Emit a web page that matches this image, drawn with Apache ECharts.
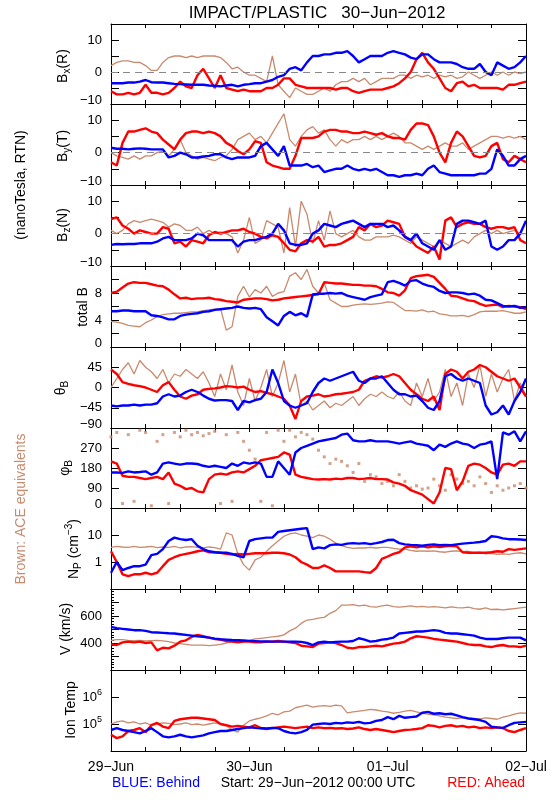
<!DOCTYPE html>
<html><head><meta charset="utf-8">
<script src="https://cdn.jsdelivr.net/npm/echarts@6/dist/echarts.min.js"></script>
<style>html,body{margin:0;padding:0;background:#fff}#c{width:550px;height:800px}</style>
</head><body><div id="c"></div>
<script>
// ---------------- DATA (hours since 29-Jun-2012 00:00 UTC) ----------------
const hours = [0,1,2,3,4,5,6,7,8,9,10,11,12,13,14,15,16,17,18,19,20,21,22,23,24,25,26,27,28,29,30,31,32,33,34,35,36,37,38,39,40,41,42,43,44,45,46,47,48,49,50,51,52,53,54,55,56,57,58,59,60,61,62,63,64,65,66,67,68,69,70,71,72];
const dayLabels = ['29\u2212Jun','30\u2212Jun','01\u2212Jul','02\u2212Jul'];

const bxRed = [-6,-7,-7,-6.5,-7,-6.5,-4,-6.5,-6.5,-7,-6.5,-5, -3,-4.5,-5,-1,1,-2,-5,-1,-5,-5.5,-6,-5.5, -6,-6,-6,-5,-5,-4,-2,-2,-4,-4.5,-5,-5, -5,-5,-5,-5.5,-5,-5,-6,-6.5,-6,-5.5,-5.5,-5.5, -5,-4.5,-3.5,-2,0,4,6,3,1,-2,-5,-6, -3.5,-3,-4.5,-4,-5,-5,-5,-5,-5.5,-4,-4,-3.5, -3];
const bxBlue = [-3.5,-3.5,-3.5,-3.3,-3.3,-3,-2.5,-3.2,-3.3,-3.3,-3.5,-3.7, -3.8,-3.9,-4,-4,-4,-4.2,-4.3,-4.5,-4.2,-4,-4.5,-4, -3.8,-3.5,-3.5,-3,-2.5,-1.5,-1,1,1.5,0.5,3,5, 5,5.5,5.5,6,6,6.5,5,3,4,5,5,5, 6,6.5,6,5.5,4.5,4,5.5,5.5,4,3,3,3, 2.5,1.5,1,1,2.5,0,-1,3,2,1,1.5,3, 5];
const bxBrown = [2,3,3.5,3.5,3,3,2,0.5,0.5,3,4.5,5, 5,4.5,5,4.5,5,5,5,4.5,3,1,1.5,0, -1,-1,-2,-3,5,-4,-6,-8,-5,-6,-7,-7, -6,-5,-6,-4,-3,-3,-2,-3,-2,-4,-3,-2, -2,-2,-1,-1,-2,-1,-1.5,-1,-2,-1,-1.5,-1, -2,-1.5,0,-1,-2,-1,0,-1,0,-1,0,-0.5, 0];

const byRed = [-3,-4,3,6.5,6.5,7,7.5,6.5,6,4,2.5,1, 4,6,6.5,6.5,6,6.5,6,5,3,2,0.5,-0.5, 1,3.5,3,-3,-4,-4.5,-5,-5,-1,4.5,4.5,4.5, 5,6.5,7,7,6.5,6.5,6,6,6.5,6,5.5,6, 5,4.5,4.5,4,7,9,9,8.5,5,0,-3,3, 6.5,5,2,-1,-1.5,-1,2,3,-2,-3,-1,-2, -3];
const byBlue = [1.5,1.2,1.2,1,1.2,1.3,1.2,1,1,1,-1.5,-1, 0,-0.5,-1.5,-1.5,-1.2,-1,-0.5,-0.5,-1.5,-2,-1.5,-1.5, -1.5,-1,2,3,1,-1,2,-4,-4,-4,-3.5,-4.5, -4,-6,-5.5,-5,-5,-4,-5,-5.5,-5,-5.5,-5,-6, -7,-7,-7.5,-7,-7,-6.5,-7,-5,-4,-6,-6.5,-7, -7,-7,-7,-7,-6.5,-6.5,-5,1,-1,-4,-4,-2, -1];
const byBrown = [0,-1,-1.5,-2,-1,-2,-1,-1,0,0.5,-1,1, 4,0,-1,-2,-1.5,-2,-2.5,-1.5,-1,1,4,5, 6,4,5,3,6,9,12,4,2,5,7,8, 6,7,4,2,4,3,4,4,5,4,5,4, 5,6,5,3,3,2,1,2,1,2,3,2, 2,3,1,2,3,4,5,5,4.5,5,4.5,5, 4];

const bzRed = [4.5,5,2.5,1.5,0,1,0.5,0,0,2,1.5,-3, -2.5,-4,-2,-2.5,-3,-0.5,0.5,0,0.5,1,1,1.5, 0.5,0,-1,-1.5,-0.5,-1,-3,-5,-5.5,-3,-2,-2.5, -1,-4,-3.5,-3.5,-3,-2,-1,2,1,3,2,2.5, 4,3.5,3,-1,-2,-4,-5,-6,-4,-8,4,5, 2,3,3.5,3,3,2,1.5,2,2,1.5,2,-2, -3];
const bzBlue = [-3.5,-3.2,-3.3,-3.2,-3.2,-3,-3,-3,-2.5,-1.5,-1,-2, -2,-2,-1.5,0,-0.5,-2,-2,-2,-2,-2,-4,-2.5, -2,-2,-1.5,-1,0,3,1,-3,-3.5,-3.5,-3,0, 1,3,2.5,2,3,3.5,4,3,2,3,3,3, 2,2.5,1,-1,-2,0,-3,-4,-5,-2,-5,-4, 3,4,4,3.5,3,4,-4,-5,-4,-2,-2,0, 4];
const bzBrown = [1,0,1,3,4,3.5,4,4.5,4,3.5,2,3, 2.5,1,1,2,0,1,0,0.5,0,-1,-6,-2, 5,-3,-2,4,3,2,-6,8,-4,10,6,-3, 4,-2,7,0,-1,0,1,-1,-2,-2,-1,-1, -1,-0.5,-1,-2,-3,-1,-2,-3,-4,-2,-3,-4, -3,-2,-3,-1,0,1,0,1,0,0.5,1,0, 0];

const btRed = [8,8.2,8.8,9.4,9.6,9.5,9.5,9.3,9.1,9,8.5,7.8, 7.2,7.3,7.1,7.2,7.2,7.3,7.1,7,6.8,6.7,6.6,7, 7.1,7.2,7.2,7.1,6.9,7,7.2,7.3,7.4,7.5,7.6,7.7, 7.8,9.6,9.5,9.4,9.4,9.3,9.2,9.2,9.1,9.1,9,8.6, 8.1,8,7.6,8.4,10.2,10.5,10.6,10.7,10.4,9.5,8.6,7.6, 7.5,7.2,6.9,6.8,6.4,6.1,6.2,6.3,5.9,6.1,6,5.9, 5.6];
const btBlue = [5.3,5.3,5.4,5.4,5.3,5.3,5.3,4.7,4.6,4.4,4.1,4.1, 4.6,4.8,4.9,5,5.2,5.3,5.5,5.6,5.7,5.8,6,5.8, 5.7,5.8,5.6,4.4,3.8,3.2,4.6,5.2,4.7,5,4.5,7.8, 7.9,7.9,8,7.9,8,7.6,7.4,7.2,7,7.4,7.6,7.8, 9.6,9.8,9.5,9.1,9.8,9.9,9.4,9.1,8.9,8.3,8,8.1, 8.1,8,7.8,7.9,7.6,7,6.9,6.5,6.1,6,6.1,5.8, 5.9];
const btBrown = [3.8,3.7,3.5,3.2,3.1,3,3.6,4,4.5,4.8,4.9,5, 5,5.1,5.2,5.2,5.4,5.5,5.6,5.7,2.5,3,7.5,9, 7.4,8.5,8,9,7.5,8,8.2,10.5,11,10,11.5,9, 8,9.5,7,6.5,6,6,6.2,6.3,6.4,6.3,6.4,6.5, 6.7,6.6,6,5.4,5.4,5.3,5.5,5.2,5.3,4.9,4.8,4.6, 4.6,4.7,4.5,4.8,5.2,5.3,5.3,5.3,5.4,5.2,5,5, 5.2];

const thRed = [40,30,12,8,5,3,0,-5,-10,5,12,-5, -20,-25,-18,-15,-5,-3,-2,0,3,2,0,2, -5,-10,-8,-12,-15,-20,-25,-40,-70,-30,-20,-18, -15,-20,-18,-15,-14,-12,-10,-5,15,20,25,22, 25,30,25,10,-5,-15,-25,-30,-20,-50,30,40, 35,20,35,40,50,45,35,25,20,15,20,0, -20];
const thBlue = [-40,-42,-40,-40,-38,-40,-38,-38,-35,-20,-15,-20, -18,-10,-5,-10,-18,-25,-29,-28,-28,-30,-50,-30, -33,-28,-25,-10,40,10,-30,-40,-45,-40,-35,-10, 10,20,15,20,25,30,35,15,10,20,20,25, 10,-5,-15,-15,-20,-18,-30,-45,-50,-30,25,30, 20,15,20,15,10,-40,-60,-55,-40,-60,-30,-10, 20];
const thBrown = [0,20,40,55,30,60,45,35,20,40,10,30, 25,40,30,20,35,10,-20,30,-5,50,-10,-40, 20,-30,0,40,-20,10,60,-10,30,-40,-30,-50, -40,-30,-45,-35,-40,-30,-20,-40,-25,-15,-20,-10, -20,-25,-10,-30,-40,10,-20,20,-30,-10,40,-20, 10,-40,30,0,50,-20,30,-10,20,40,-30,10, -20];

const phRed = [210,200,145,140,140,135,130,135,140,130,160,110, 100,85,90,75,70,130,150,155,150,160,165,160, 175,190,215,220,225,230,250,240,150,140,135,130, 128,130,128,132,130,135,135,130,132,135,130,130, 128,115,110,100,80,70,60,40,20,70,180,175, 80,120,190,200,195,180,160,150,195,200,190,210, 210];
const phBlue = [160,160,158,165,160,162,165,150,160,200,205,200, 195,200,200,198,190,185,190,185,180,200,190,205, 200,205,200,140,140,210,180,150,250,270,280,290, 300,305,310,315,330,335,305,300,300,305,300,300, 300,295,290,295,300,290,285,280,260,285,275,290, 300,290,285,270,285,290,300,130,340,330,345,300, 345];
const phBrown = [320,340,20,330,30,350,340,10,300,330,20,340, 320,350,330,340,325,335,345,20,330,30,340,300, 260,220,30,340,10,350,300,350,320,340,330,310, 260,230,200,220,210,190,160,200,120,150,140,110, 120,100,150,120,90,100,85,90,130,100,80,150, 130,110,120,100,140,110,70,100,80,90,100,110, 90];

const npRed = [2.5,1,0.35,0.3,0.35,0.35,0.4,0.35,0.4,0.7,1.2,1.5, 1.8,2,2.2,2.5,2.7,2.3,2.3,2.2,2,1.9,2,1.9, 2,2.1,2.1,2.1,2.2,2.2,2.1,1.9,1.5,1,0.8,0.6, 0.6,0.75,0.6,0.45,0.45,0.45,0.45,0.45,0.42,0.4,0.6,1.3, 1.6,2,2.3,3.5,3.8,3.5,3.8,3.5,3.8,3.6,3.8,4, 3.8,2.3,2.2,2.2,2.2,2.2,2.3,2.5,2.4,3,2.8,3, 3.2];
const npBlue = [0.4,1,0.5,0.6,0.7,0.7,0.8,1.8,2,3,6,8, 7,6.5,7,4,3,2.5,2.3,2.2,2.2,2,1.7,1.5, 6,7,7.5,8,8,13,14,15,16,17,18,3, 3.5,3.2,4.2,4.5,4.3,4.8,5,4.8,5,4.6,5,5.5, 6.5,6.7,5,4.5,4.3,4.2,4,4.3,4.5,4.2,4.3,4.2, 4.5,4.8,5,5.2,5.5,6,9,8.5,7.5,7,7,6.8, 6.5];
const npBrown = [3.5,3.8,3.6,3.5,3.8,3.5,3.6,3.8,3.4,3.6,3.5,3.8, 3.3,3.6,3.7,3.5,3.3,3.6,3.4,3,12,10,2,0.8, 0.5,1.2,1.5,2.5,4,6,9,11,12,10,9,8, 10,9,7,5,4,3.5,3.2,3.3,3.3,3.5,3.3,3.5, 3.5,3.2,3,3,2.7,2.5,2.6,2.5,2.6,2.4,2.3,2.5, 2.6,2.4,2.5,2.2,2.3,2,2.1,1.9,2,1.9,2.1,2.2, 2];

const vRed = [390,385,405,410,405,410,400,405,345,365,360,380, 410,420,445,460,450,440,430,425,415,410,405,410, 410,405,405,410,410,415,410,405,400,380,375,370, 395,400,405,400,385,365,360,370,370,375,380,375, 385,395,400,410,435,450,445,440,430,425,420,415, 410,400,390,385,385,375,370,380,385,375,375,370, 380];
const vBlue = [520,510,505,500,495,495,490,480,478,475,472,470, 465,460,455,450,445,440,432,428,425,422,420,418, 416,414,412,411,410,410,410,410,410,408,400,385, 405,410,405,408,410,410,415,435,425,410,415,425, 430,440,470,475,480,485,485,490,495,490,475,470, 470,465,460,455,440,430,430,430,435,440,440,440, 420];
const vBrown = [420,425,425,420,418,420,415,418,420,415,410,400, 395,390,385,385,385,380,385,390,400,410,410,415, 420,430,435,440,445,450,460,490,510,545,570,575, 585,590,620,640,680,680,685,675,680,670,665,675, 680,670,665,670,675,668,672,665,670,665,660,668, 662,660,665,655,650,660,648,650,645,650,655,660, 665];

const tRed = [40000,30000,35000,55000,60000,70000,50000,90000,110000,80000,70000,130000, 150000,160000,170000,170000,160000,150000,140000,100000,90000,80000,85000,80000, 75000,90000,70000,65000,70000,75000,80000,75000,70000,75000,80000,70000, 75000,70000,72000,68000,70000,65000,68000,75000,65000,60000,65000,60000, 55000,50000,55000,60000,62000,65000,70000,90000,85000,75000,85000,90000, 80000,85000,75000,80000,70000,75000,70000,75000,70000,55000,50000,60000, 70000];
const tBlue = [60000,70000,60000,55000,50000,45000,55000,70000,50000,35000,32000,35000, 40000,35000,32000,35000,38000,45000,50000,55000,55000,60000,65000,70000, 75000,72000,70000,68000,72000,70000,55000,48000,45000,50000,60000,95000, 100000,105000,100000,110000,105000,115000,110000,120000,105000,110000,130000,140000, 180000,150000,200000,170000,180000,190000,260000,280000,240000,250000,230000,240000, 210000,180000,160000,150000,140000,120000,80000,75000,72000,90000,110000,115000, 120000];
const tBrown = [100000,120000,130000,110000,120000,100000,110000,90000,100000,110000,105000,95000, 100000,110000,95000,100000,90000,100000,110000,100000,90000,60000,50000,90000, 130000,150000,170000,200000,250000,220000,280000,300000,400000,450000,500000,420000, 460000,480000,450000,500000,470000,260000,280000,300000,320000,350000,330000,300000, 280000,250000,270000,300000,320000,280000,250000,230000,220000,200000,180000,170000, 160000,170000,165000,160000,155000,170000,160000,150000,180000,200000,230000,260000, 250000];

// ---------------- STYLE / LAYOUT ----------------
const FONT = '"Liberation Sans", Arial, sans-serif';
const RED = '#ff0000', BLUE = '#0000ff', BROWN = '#c98a6e';
const L = 111, W = 415;
const tops = [24,104,185,266,347,428,508,589,670];
const heights = [80,81,81,81,81,80,81,81,81];
const minus = s => String(s).replace('-', '\u2212');

const panels = [
  {axis:{type:'value',min:-10,max:15,interval:5}, labels:[-10,0,10], zero:true, d:[bxBrown,bxRed,bxBlue]},
  {axis:{type:'value',min:-10,max:15,interval:5}, labels:[-10,0,10], zero:true, d:[byBrown,byRed,byBlue]},
  {axis:{type:'value',min:-10,max:15,interval:5}, labels:[-10,0,10], zero:true, d:[bzBrown,bzRed,bzBlue]},
  {axis:{type:'value',min:0,max:12,interval:2}, labels:[0,4,8], d:[btBrown,btRed,btBlue]},
  {axis:{type:'value',min:-90,max:90,interval:45}, labels:[-90,-45,0,45], d:[thBrown,thRed,thBlue]},
  {axis:{type:'value',min:0,max:360,interval:90}, labels:[0,90,180,270], d:[phBrown,phRed,phBlue], brownScatter:true},
  {axis:{type:'log',min:0.1,max:100,logBase:10}, labels:[1,10], log:true, d:[npBrown,npRed,npBlue]},
  {axis:{type:'value',min:200,max:800,interval:100}, labels:[400,600], minor:true, d:[vBrown,vRed,vBlue]},
  {axis:{type:'log',min:1e4,max:1e7,logBase:10}, labels:[5,6], temp:true, d:[tBrown,tRed,tBlue]}
];

const option = {animation:false, backgroundColor:'#fff', grid:[], xAxis:[], yAxis:[], series:[], graphic:[]};
const black = {color:'#000', width:1};

panels.forEach((p,i)=>{
  option.grid.push({left:L, width:W, top:tops[i], height:heights[i], show:false});
  const xBase = {type:'value', gridIndex:i, min:0, max:72, interval:6,
    axisLine:{show:true,onZero:false,lineStyle:black},
    axisTick:{show:true,inside:true,length:4,lineStyle:black},
    splitLine:{show:false}};
  option.xAxis.push(Object.assign({}, xBase, {position:'bottom',
    axisLabel:{show:i===8, color:'#000', fontSize:14, fontFamily:FONT, margin:9, showMinLabel:true, showMaxLabel:true,
      formatter:v=> (v%24===0 ? dayLabels[v/24] : '')}}));
  option.xAxis.push(Object.assign({}, xBase, {position:'top', axisLabel:{show:false}}));

  const fmt = v => {
    if (p.temp) { const e = Math.round(Math.log10(v)); return p.labels.includes(e) && Math.abs(Math.log10(v)-e)<1e-6 ? '{a|10}{b|'+e+'}' : ''; }
    if (p.log) { const r = Math.round(v*1000)/1000; return p.labels.includes(r) ? String(r) : ''; }
    if (!p.labels.includes(v)) return '';
    return v === p.axis.min ? '{m|' + minus(v) + '}' : minus(v);
  };
  const yBase = Object.assign({}, p.axis, {gridIndex:i,
    axisLine:{show:true,onZero:false,lineStyle:black},
    axisTick:{show:true,inside:true,length:8,lineStyle:black},
    splitLine:{show:false}, minorSplitLine:{show:false}});
  option.yAxis.push(Object.assign({}, yBase, {position:'left',
    minorTick: p.minor ? {show:true,splitNumber:5,length:3,lineStyle:black} : {show:false},
    axisLabel:{show:true,color:'#000',fontSize:13,fontFamily:FONT,margin:9,formatter:fmt,
      showMinLabel:true, showMaxLabel:true,
      rich:{a:{fontSize:13,fontFamily:FONT,color:'#000'},
            b:{fontSize:9,fontFamily:FONT,color:'#000',padding:[0,0,8,0]},
            m:{fontSize:13,fontFamily:FONT,color:'#000',padding:[0,0,8,0]}}}}));
  option.yAxis.push(Object.assign({}, yBase, {position:'right', axisLabel:{show:false}}));

  const cols = [BROWN, RED, BLUE];
  p.d.forEach((arr,k)=>{
    const data = hours.map((h,j)=>[h, arr[j]]);
    const s = {xAxisIndex:2*i, yAxisIndex:2*i, data, silent:true, z:2+k};
    if (k===0 && p.brownScatter) {
      Object.assign(s, {type:'scatter', symbol:'rect', symbolSize:3, itemStyle:{color:BROWN}});
    } else {
      Object.assign(s, {type:'line', showSymbol:false, symbol:'none',
        lineStyle:{color:cols[k], width:k===0?1.3:2.4}, itemStyle:{color:cols[k]}});
    }
    if (k===0 && p.zero) {
      s.markLine = {silent:true, symbol:'none', label:{show:false}, animation:false,
        lineStyle:{color:'#888', type:[7,5], width:1}, data:[{yAxis:0}]};
    }
    option.series.push(s);
  });
});

// ---------------- TEXT ----------------
const rich = {
  n:{fontSize:14, fontFamily:FONT, color:'#000'},
  s:{fontSize:10, fontFamily:FONT, color:'#000', padding:[9,0,0,0]},
  u:{fontSize:10, fontFamily:FONT, color:'#000', padding:[0,0,9,0]}
};
function vtext(x, y, text, color, size) {
  return {type:'text', x, y, rotation:Math.PI/2, silent:true,
    style:{text, x:0, y:0, fill:color||'#000', font:(size||14)+'px '+FONT,
      textAlign:'center', textVerticalAlign:'middle', align:'center', verticalAlign:'middle', rich}};
}
function htext(x, y, text, color, align, size) {
  return {type:'text', x, y, silent:true,
    style:{text, x:0, y:0, fill:color||'#000', font:(size||14)+'px '+FONT,
      textAlign:align||'center', textVerticalAlign:'middle', align:align||'center', verticalAlign:'middle'}};
}
option.graphic = [
  htext(317, 13, 'IMPACT/PLASTIC   30\u2212Jun\u22122012', '#000', 'center', 17),
  vtext(63, 66, '{n|B}{s|x}{n|(R)}'),
  vtext(63, 146, '{n|B}{s|y}{n|(T)}'),
  vtext(63, 225, '{n|B}{s|z}{n|(N)}'),
  vtext(83, 307, '{n|total B}'),
  vtext(61, 388, '{n|\u03b8}{s|B}'),
  vtext(65, 468, '{n|\u03c6}{s|B}'),
  vtext(74, 549, '{n|N}{s|P}{n| (cm}{u|\u22123}{n|)}'),
  vtext(66, 629, '{n|V (km/s)}'),
  vtext(71, 710, '{n|Ion Temp}'),
  vtext(21, 185, '(nanoTesla, RTN)', '#000', 14),
  vtext(21, 509, 'Brown: ACE equivalents', BROWN, 14),
  htext(112, 783, 'BLUE: Behind', BLUE, 'left', 14),
  htext(318, 783, 'Start: 29\u2212Jun\u22122012 00:00 UTC', '#000', 'center', 14),
  htext(525, 783, 'RED: Ahead', RED, 'right', 14)
];

const chart = echarts.init(document.getElementById('c'), null, {renderer:'canvas'});
chart.setOption(option);
</script>
</body></html>
